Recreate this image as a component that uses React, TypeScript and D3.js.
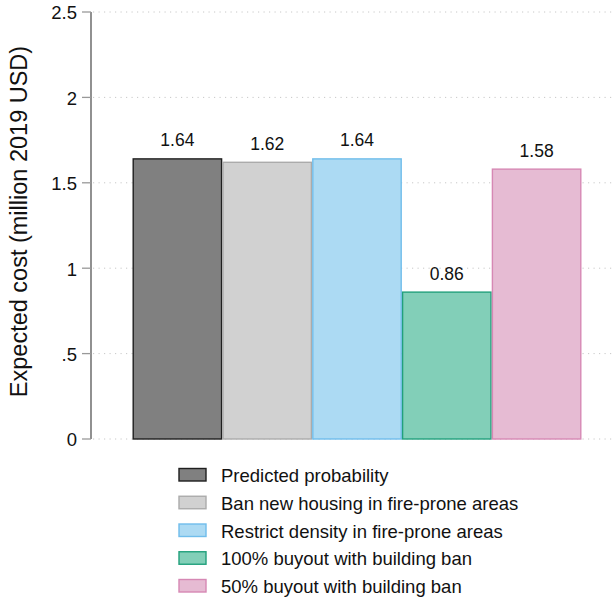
import React from "react";
import * as d3 from "d3";

// Scenario names, expected costs and styling per bar
const categories = [
  "Predicted probability",
  "Ban new housing in fire-prone areas",
  "Restrict density in fire-prone areas",
  "100% buyout with building ban",
  "50% buyout with building ban",
];
const costs = [1.64, 1.62, 1.64, 0.86, 1.58];
const costLabels = ["1.64", "1.62", "1.64", "0.86", "1.58"];
const fills = ["#808080", "#d1d1d1", "#acdaf3", "#82cfb8", "#e6bbd3"];
const strokes = ["#1f1f1f", "#ababab", "#70bdeb", "#22a07c", "#d688b4"];
const yTicks = [0, 0.5, 1, 1.5, 2, 2.5];
const yTickLabels = ["0", ".5", "1", "1.5", "2", "2.5"];

const W = 614;
const H = 601;
const FONT = "'Liberation Sans', Arial, Helvetica, sans-serif";

export default function App() {
  const axisX = 91;
  const x = d3.scaleBand<string>().domain(categories).range([132.5, 581.5]).padding(0);
  const y = d3.scaleLinear().domain([0, 2.5]).range([439, 12]);

  const legendX = 179;
  const legendY = 468.5;
  const legendStep = 27.75;

  return (
    <svg
      width={W}
      height={H}
      style={{ position: "absolute", left: 0, top: 0, background: "#fff" }}
      fontFamily={FONT}
    >
      {/* dotted horizontal gridlines */}
      {yTicks.map((t) => (
        <line
          key={"g" + t}
          x1={axisX + 2}
          x2={W}
          y1={y(t)}
          y2={y(t)}
          stroke="#c8c8c8"
          strokeWidth={1}
          strokeDasharray="1.2 4.3"
        />
      ))}

      {/* bars */}
      {categories.map((c, i) => (
        <rect
          key={c}
          x={(x(c) as number) + 0.7}
          y={y(costs[i])}
          width={x.bandwidth() - 1.4}
          height={y(0) - y(costs[i])}
          fill={fills[i]}
          stroke={strokes[i]}
          strokeWidth={1.4}
        />
      ))}

      {/* value labels */}
      {categories.map((c, i) => (
        <text
          key={"l" + c}
          x={(x(c) as number) + x.bandwidth() / 2}
          y={y(costs[i]) - 12.5}
          textAnchor="middle"
          fontSize={17.5}
          fill="#111"
        >
          {costLabels[i]}
        </text>
      ))}

      {/* y axis */}
      <line x1={axisX} x2={axisX} y1={y(2.5)} y2={y(0)} stroke="#555" strokeWidth={1.3} />
      {yTicks.map((t, i) => (
        <g key={"t" + t}>
          <line x1={axisX - 9} x2={axisX} y1={y(t)} y2={y(t)} stroke="#999" strokeWidth={1.3} />
          <text
            x={axisX - 14}
            y={y(t)}
            dy="0.4em"
            textAnchor="end"
            fontSize={18.5}
            fill="#111"
          >
            {yTickLabels[i]}
          </text>
        </g>
      ))}
      <text
        transform={`translate(27, ${(y(0) + y(2.5)) / 2 - 4}) rotate(-90)`}
        textAnchor="middle"
        fontSize={23.5}
        fill="#111"
      >
        Expected cost (million 2019 USD)
      </text>

      {/* legend */}
      {categories.map((c, i) => (
        <g key={"lg" + c} transform={`translate(${legendX}, ${legendY + i * legendStep})`}>
          <rect x={0} y={0} width={27} height={12.5} fill={fills[i]} stroke={strokes[i]} strokeWidth={1.4} />
          <text x={42} y={13.5} fontSize={18.5} fill="#111">
            {c}
          </text>
        </g>
      ))}
    </svg>
  );
}
